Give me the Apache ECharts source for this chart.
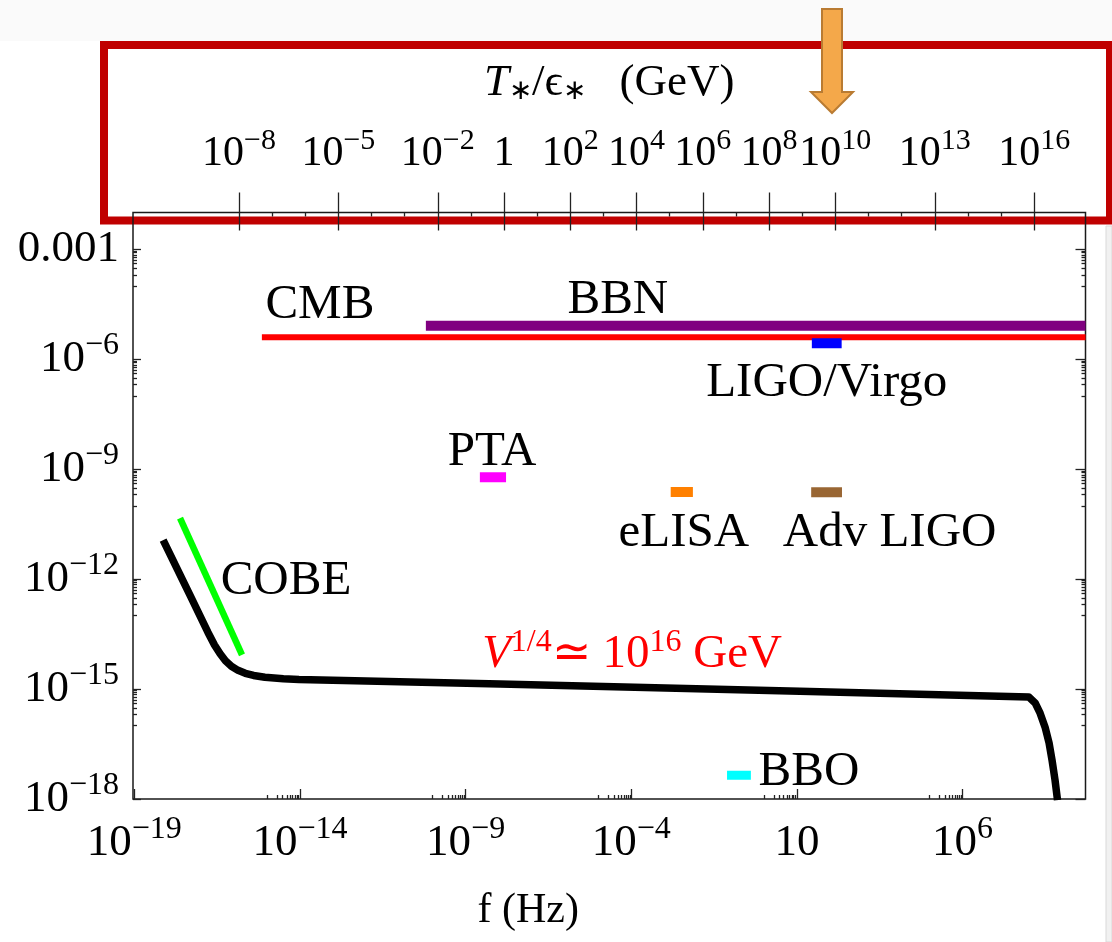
<!DOCTYPE html>
<html>
<head>
<meta charset="utf-8">
<script src="https://cdn.jsdelivr.net/npm/echarts@6/dist/echarts.min.js"></script>
<style>
  html, body { margin: 0; padding: 0; background: #fff; }
  #chart { width: 1112px; height: 942px; }
</style>
</head>
<body>
<div id="chart"></div>
<script>
// All values are log10 exponents: f in Hz, Omega_GW dimensionless, T in GeV.
const xRange = [-19.04, 9.71];
const yRange = [-18, -2];
const fTicks = [-19, -14, -9, -4, 1, 6];
const omegaTicks = [-18, -15, -12, -9, -6, -3];
const tempTicks = [-8, -5, -2, 0, 2, 4, 6, 8, 10, 13, 16];
// log10 f = log10 (T/eps) + tempToFreqShift
const tempToFreqShift = -7.84;

// inflationary spectrum, V^{1/4} ~ 1e16 GeV
const spectrumLogF =     [-18.13, -17.32, -16.78, -16.58, -16.41, -16.25, -16.07, -15.87, -15.65, -15.40, -15.06, -14.50, -14.03, -7.96, 1.09, 8.00, 8.19, 8.34, 8.49, 8.61, 8.70, 8.79, 8.865];
const spectrumLogOmega = [-10.94, -12.44, -13.45, -13.80, -14.04, -14.23, -14.38, -14.49, -14.57, -14.63, -14.68, -14.72, -14.74, -14.86, -15.06, -15.22, -15.38, -15.66, -16.04, -16.47, -16.94, -17.48, -18.03];

// COBE bound
const cobeLogF = [-17.62, -15.75];
const cobeLogOmega = [-10.34, -14.07];

// bounds and sensitivities: name, frequency band, level
const boundNames =    ['CMB',  'BBN',   'LIGO/Virgo', 'PTA',  'eLISA', 'Adv LIGO', 'BBO'];
const boundFromLogF = [-15.15, -10.20,  1.45,         -8.57,  -2.81,   1.43,       -1.11];
const boundToLogF =   [9.71,   9.71,    2.35,         -7.78,  -2.14,   2.36,       -0.39];
const boundLogOmega = [-5.40,  -5.09,   -5.565,       -9.22,  -9.625,  -9.63,      -17.35];

const FONT = "'Liberation Serif', 'Times New Roman', serif";
const LABEL_SIZE = 49;

const boundStyle = {
  'CMB':        { color: '#ff0000', width: 6,  anchor: 'start', offset: [58, -32] },
  'BBN':        { color: '#800080', width: 10, anchor: 'start', offset: [192, -26] },
  'LIGO/Virgo': { color: '#0000ff', width: 10, anchor: 'mid',   offset: [0, 40] },
  'PTA':        { color: '#ff00ff', width: 10, anchor: 'mid',   offset: [-1, -25] },
  'eLISA':      { color: '#ff8000', width: 10, anchor: 'mid',   offset: [2, 41] },
  'Adv LIGO':   { color: '#996633', width: 10, anchor: 'mid',   offset: [63, 41] },
  'BBO':        { color: '#00ffff', width: 9,  anchor: 'mid',   offset: [70, -3] }
};

function richFor(base, sup, raise) {
  return {
    b: { fontFamily: FONT, fontSize: base, lineHeight: base, verticalAlign: 'bottom', color: '#000' },
    s: { fontFamily: FONT, fontSize: sup, lineHeight: sup, verticalAlign: 'bottom', padding: [0, 0, raise, 0], color: '#000' }
  };
}
function powLabel(e) {
  if (e === 0) return '{b|1}';
  if (e === 1) return '{b|10}';
  return '{b|10}{s|' + (e < 0 ? '\u2212' + (-e) : e) + '}';
}

// minor ticks: one decade of 1..9 below each labelled decade
function minorBelow(majors, lo) {
  const out = [];
  majors.forEach(m => {
    for (let k = 1; k <= 9; k++) {
      const v = m - 1 + Math.log10(k);
      if (v >= lo) out.push(v);
    }
  });
  return out;
}
const fMinor = minorBelow(fTicks, xRange[0]);
const omegaMinor = minorBelow(omegaTicks, yRange[0]);
const tempMajorF = tempTicks.map(t => t + tempToFreqShift);
const tempMinorF = [];
for (let t = tempTicks[0]; t <= tempTicks[tempTicks.length - 1]; t++) {
  if (tempTicks.indexOf(t) < 0) tempMinorF.push(t + tempToFreqShift);
}

function tickAxis(extra) {
  return Object.assign({
    type: 'value', min: xRange[0], max: xRange[1],
    axisLine: { show: false, onZero: false },
    splitLine: { show: false },
    axisLabel: { show: false },
    axisTick: { show: false }
  }, extra);
}
function tickYAxis(extra) {
  return Object.assign({
    type: 'value', min: yRange[0], max: yRange[1],
    axisLine: { show: false, onZero: false },
    splitLine: { show: false },
    axisLabel: { show: false },
    axisTick: { show: false }
  }, extra);
}

function tag(coord, text, offset, style) {
  return {
    symbol: 'circle', symbolSize: 0, silent: true, animation: false,
    data: [{
      coord: coord,
      label: Object.assign({
        show: true, position: 'inside', offset: offset, formatter: text,
        fontFamily: FONT, fontSize: LABEL_SIZE, color: '#000'
      }, style || {})
    }]
  };
}

const series = [];
boundNames.forEach((name, i) => {
  const st = boundStyle[name];
  const x0 = boundFromLogF[i], x1 = boundToLogF[i], y = boundLogOmega[i];
  const anchor = st.anchor === 'start' ? [x0, y] : [(x0 + x1) / 2, y];
  series.push({
    name: name, type: 'line', symbol: 'none', silent: true,
    data: [[x0, y], [x1, y]],
    lineStyle: { color: st.color, width: st.width, cap: 'butt' },
    markPoint: tag(anchor, name, st.offset)
  });
});
series.push({
  name: 'COBE', type: 'line', symbol: 'none', silent: true,
  data: cobeLogF.map((f, i) => [f, cobeLogOmega[i]]),
  lineStyle: { color: '#00ff00', width: 6.5 },
  markPoint: tag([(cobeLogF[0] + cobeLogF[1]) / 2, (cobeLogOmega[0] + cobeLogOmega[1]) / 2], 'COBE', [75, -5])
});
series.push({
  name: 'spectrum', type: 'line', symbol: 'none', silent: true,
  data: spectrumLogF.map((f, i) => [f, spectrumLogOmega[i]]),
  lineStyle: { color: '#000', width: 7.5, join: 'round', cap: 'butt' },
  markPoint: tag([spectrumLogF[13], spectrumLogOmega[13]],
    '{i|V}{s|1/4}{n|\u2243 10}{s|16}{n| GeV}', [132, -29], {
      rich: {
        i: { fontFamily: FONT, fontSize: 47, fontStyle: 'italic', color: '#ff0000', lineHeight: 47, verticalAlign: 'bottom' },
        n: { fontFamily: FONT, fontSize: 47, color: '#ff0000', lineHeight: 47, verticalAlign: 'bottom' },
        s: { fontFamily: FONT, fontSize: 32, color: '#ff0000', lineHeight: 32, verticalAlign: 'bottom', padding: [0, 0, 20, 0] }
      }
    })
});

const tickLine = { color: '#222', width: 1.3 };

const option = {
  animation: false,
  backgroundColor: '#ffffff',
  grid: {
    left: 133, right: 26.5, top: 212.5, bottom: 143,
    show: true, borderColor: '#1a1a1a', borderWidth: 1.5,
    containLabel: false, outerBoundsMode: 'none'
  },
  xAxis: [
    tickAxis({
      position: 'bottom',
      axisTick: { show: true, inside: true, length: 10, customValues: fTicks, lineStyle: tickLine },
      axisLabel: {
        show: true, customValues: fTicks, margin: 22,
        formatter: v => powLabel(Math.round(v)),
        rich: richFor(45, 32, 20)
      },
      name: 'f (Hz)', nameLocation: 'middle', nameGap: 91, nameMoveOverlap: false,
      nameTextStyle: { fontFamily: FONT, fontSize: 42, color: '#000', padding: [0, 162, 0, 0] }
    }),
    tickAxis({
      position: 'bottom',
      axisTick: { show: true, inside: true, length: 4, customValues: fMinor, lineStyle: tickLine }
    }),
    tickAxis({
      position: 'top',
      axisTick: { show: true, inside: false, length: 20, customValues: tempMajorF, lineStyle: tickLine },
      axisLabel: {
        show: true, customValues: tempMajorF, margin: 38,
        formatter: v => powLabel(Math.round(v - tempToFreqShift)),
        rich: richFor(42, 30, 18)
      },
      name: '{it|T}{sub|\u2217}{n|/\u03f5}{sub|\u2217}{n|   (GeV)}',
      nameLocation: 'middle', nameGap: 107, nameMoveOverlap: false,
      nameTextStyle: {
        rich: {
          it: { fontFamily: FONT, fontSize: 45, fontStyle: 'italic', lineHeight: 45, verticalAlign: 'bottom', color: '#000' },
          n: { fontFamily: FONT, fontSize: 45, lineHeight: 45, verticalAlign: 'bottom', color: '#000' },
          sub: { fontFamily: FONT, fontSize: 28, lineHeight: 28, verticalAlign: 'bottom', color: '#000' }
        }
      }
    }),
    tickAxis({
      position: 'top',
      axisTick: { show: true, inside: true, length: 18, customValues: tempMajorF, lineStyle: tickLine }
    }),
    tickAxis({
      position: 'top',
      axisTick: { show: true, inside: true, length: 4, customValues: tempMinorF, lineStyle: tickLine }
    })
  ],
  yAxis: [
    tickYAxis({
      position: 'left',
      axisTick: { show: true, inside: true, length: 8, customValues: omegaTicks, lineStyle: tickLine },
      axisLabel: {
        show: true, customValues: omegaTicks, margin: 14,
        formatter: v => {
          const e = Math.round(v);
          return e === -3 ? '{b|0.001}' : powLabel(e);
        },
        rich: richFor(45, 32, 20)
      }
    }),
    tickYAxis({
      position: 'left',
      axisTick: { show: true, inside: true, length: 4, customValues: omegaMinor, lineStyle: tickLine }
    }),
    tickYAxis({
      position: 'right',
      axisTick: { show: true, inside: true, length: 10, customValues: omegaTicks, lineStyle: tickLine }
    }),
    tickYAxis({
      position: 'right',
      axisTick: { show: true, inside: true, length: 4, customValues: omegaMinor, lineStyle: tickLine }
    })
  ],
  series: series,
  graphic: [
    { type: 'rect', z: -10, silent: true, shape: { x: 0, y: 0, width: 1112, height: 41 }, style: { fill: '#fafafa' } },
    { type: 'rect', z: -10, silent: true, shape: { x: 1106, y: 226, width: 6, height: 716 }, style: { fill: '#f1f1f1', stroke: '#d9d9d9', lineWidth: 1 } },
    { type: 'rect', z: -5, silent: true, shape: { x: 104, y: 45, width: 1006, height: 175.5 }, style: { fill: 'none', stroke: '#c00000', lineWidth: 8 } },
    {
      type: 'polygon', z: 100, silent: true,
      shape: { points: [[822, 9], [842, 9], [842, 92], [853, 92], [832, 113], [811, 92], [822, 92]] },
      style: { fill: '#f4a84a', stroke: '#b97b32', lineWidth: 2 }
    }
  ]
};

const chart = echarts.init(document.getElementById('chart'), null, { renderer: 'canvas' });
chart.setOption(option);
</script>
</body>
</html>
